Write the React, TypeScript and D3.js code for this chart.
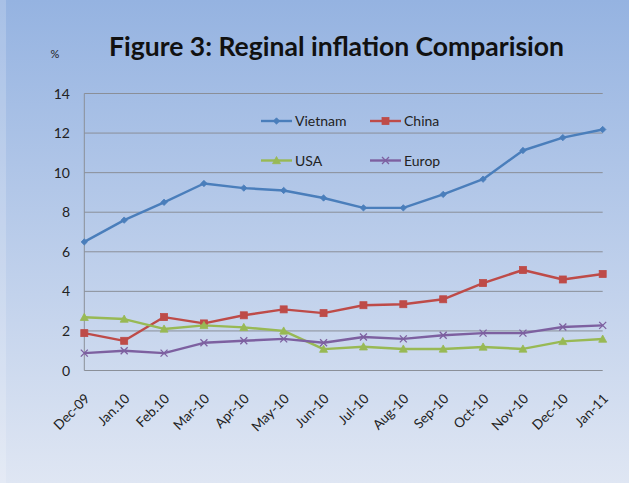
import React from "react";
import * as d3 from "d3";

const categories = ["Dec-09","Jan.10","Feb.10","Mar-10","Apr-10","May-10","Jun-10","Jul-10","Aug-10","Sep-10","Oct-10","Nov-10","Dec-10","Jan-11"];
const vietnam = [6.5, 7.6, 8.5, 9.45, 9.22, 9.1, 8.72, 8.22, 8.22, 8.9, 9.67, 11.12, 11.77, 12.18];
const china = [1.89, 1.5, 2.7, 2.38, 2.79, 3.09, 2.9, 3.3, 3.35, 3.6, 4.42, 5.08, 4.6, 4.88];
const usa = [2.69, 2.6, 2.1, 2.28, 2.18, 2.0, 1.08, 1.2, 1.09, 1.09, 1.19, 1.09, 1.47, 1.59];
const europ = [0.88, 1.0, 0.88, 1.4, 1.5, 1.6, 1.4, 1.69, 1.6, 1.78, 1.89, 1.89, 2.2, 2.28];
const yTicks = [0, 2, 4, 6, 8, 10, 12, 14];

const seriesNames = ["Vietnam", "China", "USA", "Europ"];
const seriesColors = ["#4a7ebb", "#be4b48", "#98b954", "#7d60a0"];
const seriesMarkers = ["diamond", "square", "triangle", "x"];
const seriesValues = [vietnam, china, usa, europ];

const W = 629, H = 483;
const left = 84.3, right = 602.7, top = 93.5, bottom = 370.5;
const FONT = "Lato, 'Open Sans', sans-serif";

function Marker({ type, x, y, color }: { type: string; x: number; y: number; color: string }) {
  if (type === "diamond") {
    const s = 3.2;
    return <path d={`M${x},${y - s}L${x + s},${y}L${x},${y + s}L${x - s},${y}Z`} fill={color} stroke={color} strokeWidth={0.8} />;
  }
  if (type === "square") {
    const s = 3.5;
    return <rect x={x - s} y={y - s} width={2 * s} height={2 * s} fill={color} stroke={color} strokeWidth={0.8} />;
  }
  if (type === "triangle") {
    const s = 4;
    return <path d={`M${x},${y - s}L${x + s},${y + s * 0.8}L${x - s},${y + s * 0.8}Z`} fill={color} stroke={color} strokeWidth={0.8} />;
  }
  const s = 3.5;
  return <path d={`M${x - s},${y - s}L${x + s},${y + s}M${x - s},${y + s}L${x + s},${y - s}`} stroke={color} strokeWidth={1.3} fill="none" />;
}

export default function App() {
  const x = d3.scalePoint<string>().domain(categories).range([left, right]);
  const y = d3.scaleLinear().domain([0, 14]).range([bottom, top]);
  const line = d3.line<number>().x((_, i) => x(categories[i]) as number).y((d) => y(d));

  const legendPos = [
    { lx: 261, ly: 121 },
    { lx: 370, ly: 121 },
    { lx: 261, ly: 160.5 },
    { lx: 370, ly: 160.5 },
  ];

  return (
    <svg width={W} height={H} style={{ position: "absolute", left: 0, top: 0 }} fontFamily={FONT}>
      <defs>
        <linearGradient id="bg" x1="0" y1="0" x2="0" y2="1">
          <stop offset="0" stopColor="#95b3e1" />
          <stop offset="1" stopColor="#dfe6f3" />
        </linearGradient>
      </defs>
      <rect x={0} y={0} width={W} height={H} fill="url(#bg)" />
      <rect x={0} y={0} width={6} height={H} fill="#ffffff" opacity={0.18} />

      {/* gridlines */}
      {yTicks.map((t) => (
        <line key={t} x1={left} x2={right} y1={y(t)} y2={y(t)} stroke="#8a8f98" strokeWidth={1} />
      ))}
      <line x1={left} x2={left} y1={top} y2={bottom} stroke="#8a8f98" strokeWidth={1} />

      {/* y tick labels */}
      {yTicks.map((t) => (
        <text key={t} x={70} y={y(t)} dy="0.36em" textAnchor="end" fontSize={14} fill="#222">{t}</text>
      ))}
      <text x={55} y={58} fontSize={11} fill="#222" textAnchor="middle">%</text>

      {/* x labels */}
      {categories.map((c) => (
        <text key={c} transform={`translate(${(x(c) as number) + 3},${396}) rotate(-45)`} dy="0.35em" textAnchor="end" fontSize={13.5} fill="#222">{c}</text>
      ))}

      {/* series */}
      {seriesValues.map((vals, si) => (
        <g key={seriesNames[si]}>
          <path d={line(vals) || ""} fill="none" stroke={seriesColors[si]} strokeWidth={2.4} strokeLinejoin="round" />
          {vals.map((v, i) => (
            <Marker key={i} type={seriesMarkers[si]} x={x(categories[i]) as number} y={y(v)} color={seriesColors[si]} />
          ))}
        </g>
      ))}

      {/* legend */}
      {seriesNames.map((n, si) => {
        const p = legendPos[si];
        return (
          <g key={n}>
            <line x1={p.lx} x2={p.lx + 31} y1={p.ly} y2={p.ly} stroke={seriesColors[si]} strokeWidth={2.4} />
            <Marker type={seriesMarkers[si]} x={p.lx + 15.5} y={p.ly} color={seriesColors[si]} />
            <text x={p.lx + 34} y={p.ly} dy="0.36em" fontSize={14} fill="#222">{n}</text>
          </g>
        );
      })}

      {/* title */}
      <text x={336.5} y={56} textAnchor="middle" fontSize={27} fontWeight="bold" fill="#111" textLength={455} lengthAdjust="spacingAndGlyphs">Figure 3: Reginal inflation Comparision</text>
    </svg>
  );
}
